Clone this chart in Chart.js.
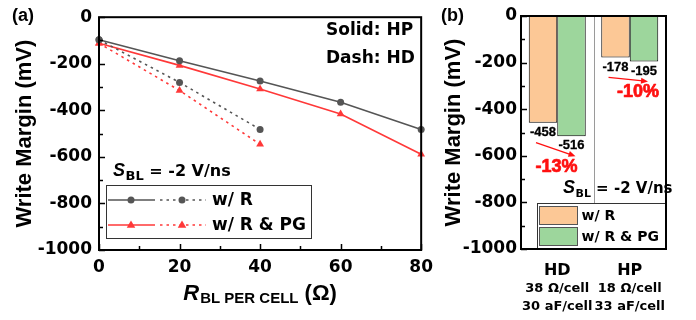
<!DOCTYPE html>
<html><head><meta charset="utf-8">
<script src="https://cdn.jsdelivr.net/npm/chart.js@4.4.1/dist/chart.umd.min.js"></script>
<style>
html,body{margin:0;padding:0;background:#fff;overflow:hidden;width:696px;height:320px}
#c1{position:absolute;left:0;top:0}
#c2{position:absolute;left:440px;top:0}
</style>
</head><body>
<canvas id="c1" width="440" height="320"></canvas>
<canvas id="c2" width="256" height="320"></canvas>
<script>
// ---------- data: panel (a) ----------
const resistance = [0, 20, 40, 60, 80];
const hpWithR = [-97, -187, -274, -365, -482];
const hpWithRPG = [-112, -207, -308, -416, -589];
const hdResistance = [0, 20, 40];
const hdWithR = [-97, -280, -482];
const hdWithRPG = [-112, -315, -546];
const legendLabelsA = ['w/ R', 'w/ R & PG'];

// ---------- data: panel (b) ----------
const barCategories = ['HD', 'HP'];
const barSubLabel1 = ['38 Ω/cell', '18 Ω/cell'];
const barSubLabel2 = ['30 aF/cell', '33 aF/cell'];
const barWithR = [-458, -178];
const barWithRPG = [-516, -195];
const barChange = ['-13%', '-10%'];
const legendLabelsB = ['w/ R', 'w/ R & PG'];

const ARIAL = '"Liberation Sans", Arial, sans-serif';
const DJV = '"DejaVu Sans", sans-serif';
const GRAY = '#555555', RED = '#ff3838', PCT_RED = '#ff1010';
const ORANGE = '#fcc896', GREEN = '#9dd69c';

function pts(xs, ys) { return xs.map((x, i) => ({ x: x, y: ys[i] })); }

function text(ctx, s, x, y, font, color, align, base, strokeW) {
  ctx.save();
  ctx.font = font; ctx.fillStyle = color || '#000';
  ctx.textAlign = align || 'left'; ctx.textBaseline = base || 'alphabetic';
  ctx.fillText(s, x, y);
  if (strokeW) { ctx.strokeStyle = color || '#000'; ctx.lineWidth = strokeW; ctx.lineJoin = 'round'; ctx.strokeText(s, x, y); }
  const w = ctx.measureText(s).width;
  ctx.restore();
  return w;
}
function marker(ctx, style, x, y, color) {
  ctx.save(); ctx.fillStyle = color;
  ctx.beginPath();
  if (style === 'circle') { ctx.arc(x, y, 3.5, 0, Math.PI * 2); }
  else { const r = 4.5; ctx.moveTo(x, y - r); ctx.lineTo(x + r * 0.95, y + r * 0.6); ctx.lineTo(x - r * 0.95, y + r * 0.6); ctx.closePath(); }
  ctx.fill(); ctx.restore();
}
function frameAndTicks(ctx, ca, yScale, xTicks, yMin, yMax) {
  ctx.save();
  ctx.strokeStyle = '#000'; ctx.lineWidth = 2;
  ctx.strokeRect(ca.left, ca.top, ca.right - ca.left, ca.bottom - ca.top);
  ctx.lineWidth = 1.5;
  ctx.beginPath();
  for (let v = yMin; v <= yMax; v += 100) {
    const y = Math.round(yScale.getPixelForValue(v)) + 0.5;
    const len = (v % 200 === 0) ? 6 : 4;
    ctx.moveTo(ca.left, y); ctx.lineTo(ca.left + len, y);
  }
  xTicks.forEach(t => { ctx.moveTo(t.x, ca.bottom); ctx.lineTo(t.x, ca.bottom - t.len); });
  ctx.stroke();
  ctx.restore();
}
function yTitle(ctx, x, y) {
  ctx.save(); ctx.translate(x, y); ctx.rotate(-Math.PI / 2);
  text(ctx, 'Write Margin (mV)', 0, 0, 'bold 22px ' + ARIAL, '#000', 'center', 'middle');
  ctx.restore();
}
function sbl(ctx, x, y, sSize, subSize, restSize) {
  let w = text(ctx, 'S', x, y, 'italic bold ' + sSize + 'px ' + ARIAL);
  let w2 = text(ctx, 'BL', x + w + 0.5, y + 4, 'bold ' + subSize + 'px ' + DJV);
  text(ctx, ' = -2 V/ns', x + w + w2 + 0.5, y, 'bold ' + restSize + 'px ' + DJV);
}

const tickFont = { family: DJV, weight: 'bold', size: 17 };
const plainTick = v => String(v);

// ---------- panel (a) ----------
const decorA = {
  id: 'decorA',
  afterDraw(chart) {
    const ctx = chart.ctx, ca = chart.chartArea;
    const xs = chart.scales.x, ys = chart.scales.y;
    const xt = [];
    for (let v = 0; v <= 80; v += 10) xt.push({ x: Math.round(xs.getPixelForValue(v)) + 0.5, len: v % 20 === 0 ? 6 : 4 });
    frameAndTicks(ctx, ca, ys, xt, -1000, 0);
    text(ctx, '(a)', 12, 16, 'bold 18px ' + ARIAL, '#000', 'left', 'middle');
    yTitle(ctx, 25, (ca.top + ca.bottom) / 2);
    // x title
    ctx.save();
    ctx.font = 'italic bold 22px ' + ARIAL; const wR = ctx.measureText('R').width;
    ctx.font = 'bold 15px ' + ARIAL; const wS = ctx.measureText('BL PER CELL').width;
    ctx.font = 'bold 22px ' + ARIAL; const wO = ctx.measureText(' (Ω)').width;
    ctx.restore();
    let x0 = (ca.left + ca.right) / 2 - (wR + wS + wO + 1) / 2;
    text(ctx, 'R', x0, 300, 'italic bold 22px ' + ARIAL);
    text(ctx, 'BL PER CELL', x0 + wR + 1, 303, 'bold 15px ' + ARIAL);
    text(ctx, ' (Ω)', x0 + wR + 1 + wS, 300, 'bold 22px ' + ARIAL);
    // annotations
    text(ctx, 'Solid: HP', 326, 31, 'bold 17px ' + DJV, '#000', 'left', 'middle');
    text(ctx, 'Dash: HD', 326, 59, 'bold 17px ' + DJV, '#000', 'left', 'middle');
    sbl(ctx, 113, 176, 18, 13, 16);
    // legend
    ctx.save();
    ctx.fillStyle = '#fff'; ctx.fillRect(106, 185, 205, 53);
    ctx.strokeStyle = '#333'; ctx.lineWidth = 1; ctx.strokeRect(106.5, 185.5, 205, 53);
    const rows = [{ c: GRAY, m: 'circle', y: 200 }, { c: RED, m: 'triangle', y: 225 }];
    rows.forEach((r, i) => {
      ctx.strokeStyle = r.c; ctx.lineWidth = 1.6;
      ctx.setLineDash([]); ctx.beginPath(); ctx.moveTo(108, r.y); ctx.lineTo(155, r.y); ctx.stroke();
      ctx.setLineDash([2.5, 4]); ctx.beginPath(); ctx.moveTo(160, r.y); ctx.lineTo(206, r.y); ctx.stroke();
      ctx.setLineDash([]);
      marker(ctx, r.m, 131, r.y, r.c); marker(ctx, r.m, 182, r.y, r.c);
      text(ctx, legendLabelsA[i], 212, r.y + 1, 'bold 17px ' + DJV, '#000', 'left', 'middle');
    });
    ctx.restore();
  }
};

function lineDs(xs, ys, color, style, dashed) {
  return {
    data: pts(xs, ys), borderColor: color, backgroundColor: color, borderWidth: 1.6,
    borderDash: dashed ? [2.5, 4] : [], pointStyle: style, pointRadius: style === 'circle' ? 3.5 : 4.5,
    pointBorderWidth: 0, pointBackgroundColor: color, clip: false, tension: 0
  };
}

new Chart(document.getElementById('c1'), {
  type: 'line',
  data: {
    datasets: [
      lineDs(hdResistance, hdWithR, GRAY, 'circle', true),
      lineDs(hdResistance, hdWithRPG, RED, 'triangle', true),
      lineDs(resistance, hpWithR, GRAY, 'circle', false),
      lineDs(resistance, hpWithRPG, RED, 'triangle', false)
    ]
  },
  options: {
    responsive: false, animation: false, devicePixelRatio: 1,
    layout: { padding: { top: 15, right: 12, left: 0, bottom: 0 } },
    plugins: { legend: { display: false }, tooltip: { enabled: false } },
    scales: {
      x: {
        type: 'linear', min: 0, max: 80,
        ticks: { stepSize: 20, font: tickFont, color: '#000', padding: 7, maxRotation: 0, callback: plainTick },
        grid: { display: false, drawTicks: false }, border: { display: false },
        afterFit(s) { s.height = 70; }
      },
      y: {
        type: 'linear', min: -1000, max: 0,
        ticks: { stepSize: 200, font: tickFont, color: '#000', padding: 7, callback: plainTick },
        grid: { display: false, drawTicks: false }, border: { display: false },
        afterFit(s) { s.width = 99; }
      }
    }
  },
  plugins: [decorA]
});

// ---------- panel (b) ----------
const decorB = {
  id: 'decorB',
  beforeDatasetsDraw(chart) {
    const ctx = chart.ctx, ca = chart.chartArea, xs = chart.scales.x;
    const xm = Math.round(xs.getPixelForValue(0.5)) + 0.5;
    ctx.save(); ctx.strokeStyle = '#9a9a9a'; ctx.lineWidth = 1;
    ctx.beginPath(); ctx.moveTo(xm, ca.top); ctx.lineTo(xm, ca.bottom); ctx.stroke(); ctx.restore();
  },
  afterDraw(chart) {
    const ctx = chart.ctx, ca = chart.chartArea;
    const xs = chart.scales.x, ys = chart.scales.y;
    const m0 = chart.getDatasetMeta(0).data, m1 = chart.getDatasetMeta(1).data;
    // value labels
    [m0, m1].forEach((meta, d) => {
      meta.forEach((el, i) => {
        const v = d === 0 ? barWithR[i] : barWithRPG[i];
        text(ctx, String(v), el.x, el.y + 9.5, 'bold 13px ' + ARIAL, '#000', 'center', 'middle', 0.3);
      });
    });
    // arrows + percentages
    const pctDx = [-15, -6];
    barCategories.forEach((c, i) => {
      const a = m0[i], b = m1[i];
      const x1 = a.x - 7, y1 = a.y + 20, x2 = b.x + 4, y2 = b.y + 20;
      ctx.save(); ctx.strokeStyle = PCT_RED; ctx.fillStyle = PCT_RED; ctx.lineWidth = 1.3;
      const ang = Math.atan2(y2 - y1, x2 - x1);
      ctx.beginPath(); ctx.moveTo(x1, y1); ctx.lineTo(x2 - 5 * Math.cos(ang), y2 - 5 * Math.sin(ang)); ctx.stroke();
      ctx.beginPath(); ctx.moveTo(x2, y2);
      ctx.lineTo(x2 - 7 * Math.cos(ang) + 3 * Math.sin(ang), y2 - 7 * Math.sin(ang) - 3 * Math.cos(ang));
      ctx.lineTo(x2 - 7 * Math.cos(ang) - 3 * Math.sin(ang), y2 - 7 * Math.sin(ang) + 3 * Math.cos(ang));
      ctx.closePath(); ctx.fill(); ctx.restore();
      text(ctx, barChange[i], b.x + pctDx[i], b.y + 31, 'bold 18px ' + ARIAL, PCT_RED, 'center', 'middle', 0.7);
    });
    // frame and ticks
    const xt = barCategories.map((c, i) => ({ x: Math.round(xs.getPixelForValue(i)) + 0.5, len: 6 }));
    frameAndTicks(ctx, ca, ys, xt, -1000, 0);
    text(ctx, '(b)', 1, 16, 'bold 18px ' + ARIAL, '#000', 'left', 'middle');
    yTitle(ctx, 14, (ca.top + ca.bottom) / 2);
    // category labels
    barCategories.forEach((c, i) => {
      const x = xs.getPixelForValue(i);
      text(ctx, c, x, 271, 'bold 16px ' + DJV, '#000', 'center', 'middle');
      text(ctx, barSubLabel1[i], x, 288.5, 'bold 13px ' + DJV, '#000', 'center', 'middle');
      text(ctx, barSubLabel2[i], x, 307, 'bold 13px ' + DJV, '#000', 'center', 'middle');
    });
    sbl(ctx, 123, 193, 18, 11, 15);
    // legend
    ctx.save();
    const lx = 97, ly = 203, lw = ca.right - lx, lh = ca.bottom - ly;
    ctx.fillStyle = '#fff'; ctx.fillRect(lx, ly, lw, lh);
    ctx.strokeStyle = '#333'; ctx.lineWidth = 1; ctx.strokeRect(lx + 0.5, ly + 0.5, lw, lh);
    const boxes = [{ c: ORANGE, y: 206 }, { c: GREEN, y: 227 }];
    boxes.forEach((b, i) => {
      ctx.fillStyle = b.c; ctx.fillRect(99, b.y, 38, 18);
      ctx.strokeStyle = '#555'; ctx.strokeRect(99.5, b.y + 0.5, 38, 18);
      text(ctx, legendLabelsB[i], 141.5, b.y + 10, 'bold 14px ' + DJV, '#000', 'left', 'middle');
    });
    ctx.restore();
    // redraw frame over legend edges
    ctx.save(); ctx.strokeStyle = '#000'; ctx.lineWidth = 2;
    ctx.strokeRect(ca.left, ca.top, ca.right - ca.left, ca.bottom - ca.top); ctx.restore();
  }
};

new Chart(document.getElementById('c2'), {
  type: 'bar',
  data: {
    labels: barCategories,
    datasets: [
      { data: barWithR, backgroundColor: ORANGE, borderColor: '#000', borderWidth: 1, categoryPercentage: 0.786, barPercentage: 1 },
      { data: barWithRPG, backgroundColor: GREEN, borderColor: '#000', borderWidth: 1, categoryPercentage: 0.786, barPercentage: 1 }
    ]
  },
  options: {
    responsive: false, animation: false, devicePixelRatio: 1,
    layout: { padding: { top: 16, right: 30, left: 0, bottom: 0 } },
    plugins: { legend: { display: false }, tooltip: { enabled: false } },
    scales: {
      x: {
        ticks: { display: false }, grid: { display: false, drawTicks: false }, border: { display: false },
        afterFit(s) { s.height = 71; }
      },
      y: {
        min: -1000, max: 0,
        ticks: { stepSize: 200, font: tickFont, color: '#000', padding: 4, callback: plainTick },
        grid: { display: false, drawTicks: false }, border: { display: false },
        afterFit(s) { s.width = 81; }
      }
    }
  },
  plugins: [decorB]
});
</script>
</body></html>
